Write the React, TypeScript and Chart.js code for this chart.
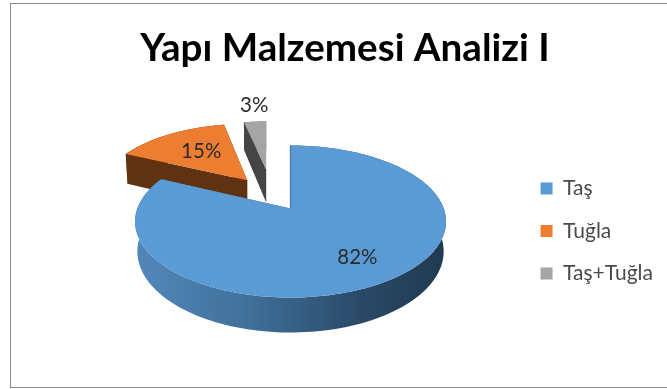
import React, { useEffect, useRef } from "react";
import { Chart, registerables } from "chart.js";

Chart.register(...registerables);

const titleText = "Yapı Malzemesi Analizi I";
const categories = ["Taş", "Tuğla", "Taş+Tuğla"];
const shares = [82, 15, 3];
const topColors = ["#5b9bd5", "#ed7d31", "#a5a5a5"];

// Per-slice perspective model of the exploded 3D pie (canvas pixels).
const apexX = [279.5, 236.2, 255.2];
const apexY = [204.5, 176.2, 165.5];
const spreadX = [153.2, 144, 139];
const spreadY = [73.8, 66, 56.2];
const tilt = 0.171;
const depth = [29, 32, 33];
const labelReach = [0.71, 0.6, 1.43];
const labelNudgeX = [2, 3, 3];
const drawOrder = [1, 2, 0];

type Pt = [number, number];

const pie3d = {
  id: "pie3d",
  beforeDatasetsDraw(chart: any) {
    const ctx: CanvasRenderingContext2D = chart.ctx;
    const arcs = chart.getDatasetMeta(0).data;
    const project = (i: number, t: number, r = 1, low = 0): Pt => {
      const u = Math.sin(t) * r;
      const v = -Math.cos(t) * r;
      const w = 1 - tilt * v;
      const sx = low ? 0.985 : 1;
      return [
        apexX[i] + (spreadX[i] * sx * u) / w,
        apexY[i] + (spreadY[i] * v) / w + (low ? depth[i] / w : 0),
      ];
    };
    const poly = (pts: Pt[], fill: string | CanvasGradient) => {
      ctx.beginPath();
      pts.forEach((p, k) => (k ? ctx.lineTo(p[0], p[1]) : ctx.moveTo(p[0], p[1])));
      ctx.closePath();
      ctx.fillStyle = fill;
      ctx.fill();
    };
    const blueWall = ctx.createLinearGradient(apexX[0] - 155, 0, apexX[0] + 155, 0);
    blueWall.addColorStop(0, "#5288ba");
    blueWall.addColorStop(0.35, "#41719c");
    blueWall.addColorStop(0.72, "#2a4a68");
    blueWall.addColorStop(1, "#203a50");
    const walls: (string | CanvasGradient)[] = [blueWall, "#5f3312", "#454545"];

    for (const i of drawOrder) {
      const arc = arcs[i];
      const t0 = arc.startAngle + Math.PI / 2;
      const t1 = arc.endAngle + Math.PI / 2;
      const rim: number[] = [];
      const steps = 160;
      for (let k = 0; k <= steps; k++) rim.push(t0 + ((t1 - t0) * k) / steps);
      const topRim = rim.map((t) => project(i, t));
      const lowRim = rim.map((t) => project(i, t, 1, 1));
      const apexTop = project(i, 0, 0);
      const apexLow = project(i, 0, 0, 1);
      const wall = walls[i];
      poly([apexTop, topRim[0], lowRim[0], apexLow], wall);
      poly([apexTop, topRim[steps], lowRim[steps], apexLow], wall);
      poly([...topRim, ...lowRim.slice().reverse()], wall);
      if (i === 0) {
        ctx.save();
        ctx.strokeStyle = "#2f4f6d";
        ctx.lineWidth = 1.2;
        ctx.beginPath();
        ctx.moveTo(apexTop[0], apexTop[1]);
        ctx.lineTo(topRim[0][0], topRim[0][1]);
        ctx.stroke();
        ctx.restore();
      }
      poly([apexTop, ...topRim], topColors[i]);
    }

    ctx.save();
    ctx.font = "20.5px Lato";
    ctx.fillStyle = "#2b2b2b";
    ctx.textAlign = "center";
    ctx.textBaseline = "middle";
    const total = shares.reduce((a, b) => a + b, 0);
    arcs.forEach((arc: any, i: number) => {
      const mid = (arc.startAngle + arc.endAngle) / 2 + Math.PI / 2;
      const p = project(i, mid, labelReach[i]);
      ctx.fillText(Math.round((shares[i] / total) * 100) + "%", p[0] + labelNudgeX[i], p[1]);
    });
    ctx.restore();
    return false;
  },
};

export default function App() {
  const ref = useRef<HTMLCanvasElement>(null);
  useEffect(() => {
    document.body.style.margin = "0";
    document.body.style.overflow = "hidden";
    const chart = new Chart(ref.current as HTMLCanvasElement, {
      type: "pie",
      data: {
        labels: categories,
        datasets: [{ data: shares, backgroundColor: topColors, borderWidth: 0 }],
      },
      options: {
        responsive: false,
        animation: false,
        layout: { padding: { left: 16, right: 18, bottom: 7 } },
        plugins: {
          title: {
            display: true,
            text: titleText,
            color: "#000000",
            font: { family: "Lato", size: 38.6, weight: "bold" },
            padding: { top: 21.5, bottom: 10 },
          },
          legend: {
            position: "right",
            fullSize: false,
            labels: {
              boxWidth: 12,
              boxHeight: 12,
              padding: 21.5,
              color: "#4a4a4a",
              font: { family: "Lato", size: 21 },
            },
          },
          tooltip: { enabled: false },
        },
      },
      plugins: [pie3d],
    } as any);
    return () => chart.destroy();
  }, []);
  return (
    <div style={{ position: "fixed", left: 0, top: 0, width: 667, height: 389, overflow: "hidden", background: "#fff" }}>
      <div style={{ position: "absolute", left: 10, top: 3, width: 670, height: 383, border: "1.5px solid #8c8c8c", boxSizing: "content-box" }}>
        <canvas ref={ref} width={670} height={383} style={{ display: "block" }} />
      </div>
    </div>
  );
}
